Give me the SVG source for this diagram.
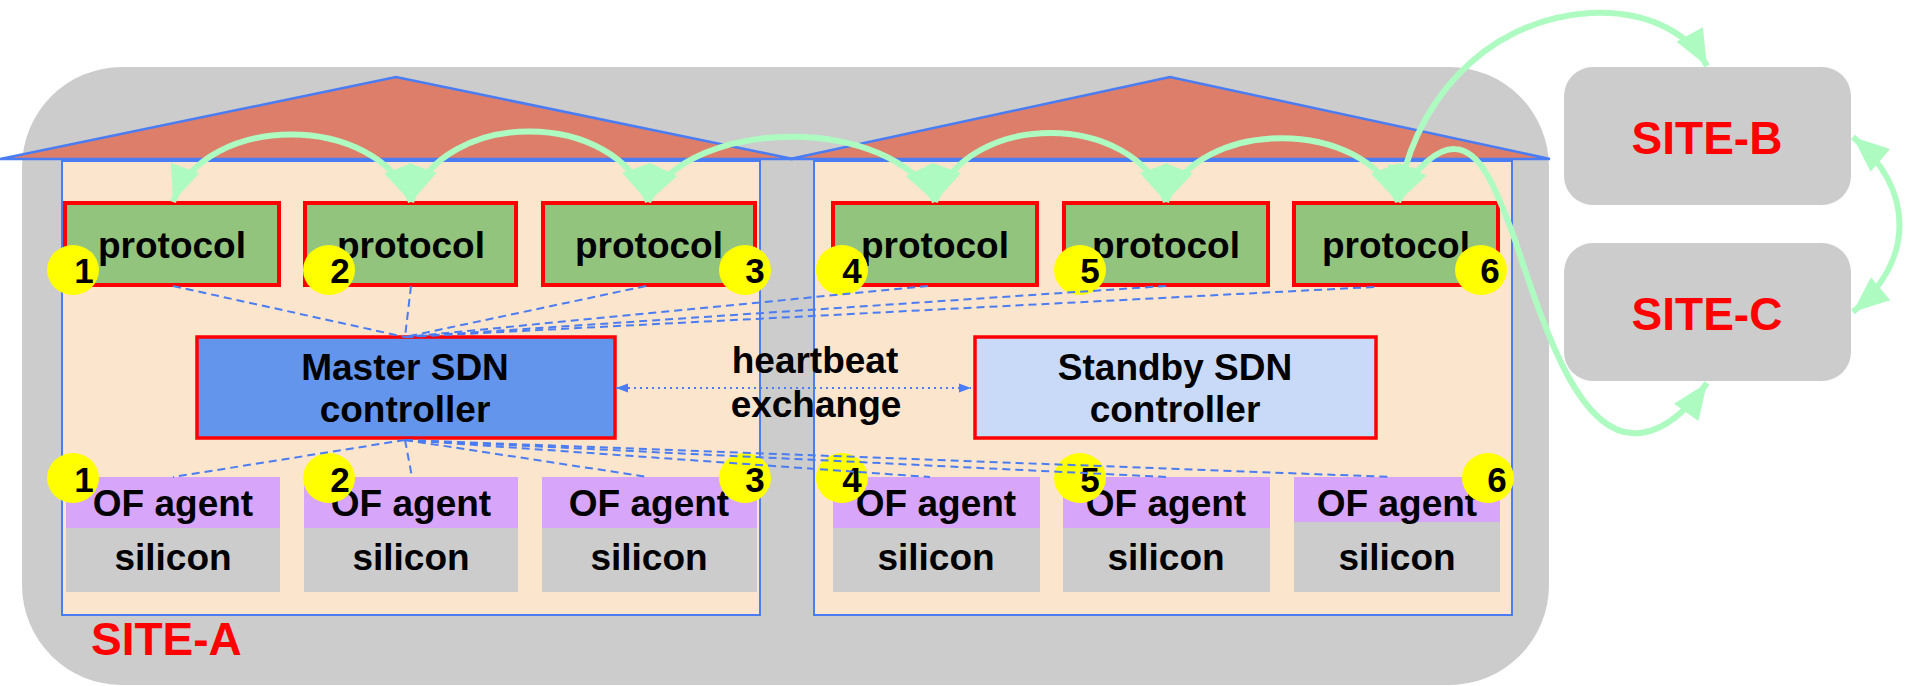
<svg xmlns="http://www.w3.org/2000/svg" width="1905" height="686" viewBox="0 0 1905 686">
<style>
text{font-family:"Liberation Sans",Arial,sans-serif;font-weight:bold;font-size:37px;fill:#000;text-anchor:middle}
.site{font-size:46px;fill:#ff0000}
.num{font-size:35px}
.bld{fill:#fce5cd;stroke:#4a7cf3;stroke-width:2}
.roof{fill:#dd7e6b;stroke:#4a7cf3;stroke-width:2.5;stroke-linejoin:miter}
.proto{fill:#93c47d;stroke:#ff0000;stroke-width:4}
.ctl{stroke:#ff0000;stroke-width:3.5}
.of{fill:#d7a6fb}
.si{fill:#cccccc}
.badge{fill:#ffff00}
.dash{fill:none;stroke:#4a7cf3;stroke-width:2;stroke-dasharray:8 5}
.dot{fill:none;stroke:#4a7cf3;stroke-width:2;stroke-dasharray:2 4}
.green{fill:none;stroke:#adfbc0;stroke-width:6}
</style>
<defs>
<marker id="gh" markerUnits="userSpaceOnUse" markerWidth="38" markerHeight="32" refX="36" refY="15" orient="auto-start-reverse" overflow="visible"><path d="M0,0 L36,15 L0,30 z" fill="#adfbc0"/></marker>
<marker id="bh" markerUnits="userSpaceOnUse" markerWidth="13" markerHeight="10" refX="12" refY="4.5" orient="auto-start-reverse" overflow="visible"><path d="M0,0 L12,4.5 L0,9 z" fill="#4a7cf3"/></marker>
</defs>

<g id="site-a">
<rect x="22" y="67" width="1527" height="618" rx="100" fill="#cccccc"/>
<text class="site" x="91" y="655" style="text-anchor:start">SITE-A</text>
</g>

<g id="building-left">
<polygon class="roof" points="0,159 396,77 793,159"/>
<rect class="bld" x="62" y="161" width="698" height="454"/>
</g>
<g id="building-right">
<polygon class="roof" points="790,159 1170,77 1550,159"/>
<rect class="bld" x="814" y="161" width="698" height="454"/>
</g>

<g id="site-b">
<rect x="1564" y="67" width="287" height="138" rx="29" fill="#cccccc"/>
<text class="site" x="1707" y="154">SITE-B</text>
</g>
<g id="site-c">
<rect x="1564" y="243" width="287" height="138" rx="29" fill="#cccccc"/>
<text class="site" x="1707" y="330">SITE-C</text>
</g>

<g id="protocol-1"><rect class="proto" x="65" y="203" width="214" height="82"/><text x="172" y="258">protocol</text></g>
<g id="protocol-2"><rect class="proto" x="305" y="203" width="211" height="82"/><text x="411" y="258">protocol</text></g>
<g id="protocol-3"><rect class="proto" x="543" y="203" width="212" height="82"/><text x="649" y="258">protocol</text></g>
<g id="protocol-4"><rect class="proto" x="833" y="203" width="204" height="82"/><text x="935" y="258">protocol</text></g>
<g id="protocol-5"><rect class="proto" x="1064" y="203" width="204" height="82"/><text x="1166" y="258">protocol</text></g>
<g id="protocol-6"><rect class="proto" x="1294" y="203" width="204" height="82"/><text x="1396" y="258">protocol</text></g>

<g id="master-controller">
<rect class="ctl" x="197" y="337" width="418" height="101" fill="#6495ed"/>
<text x="405" y="380">Master SDN</text>
<text x="405" y="422">controller</text>
</g>
<g id="standby-controller">
<rect class="ctl" x="975" y="337" width="401" height="101" fill="#c9daf8"/>
<text x="1175" y="380">Standby SDN</text>
<text x="1175" y="422">controller</text>
</g>
<g id="heartbeat-label">
<text x="815" y="373">heartbeat</text>
<text x="816" y="417">exchange</text>
</g>

<g id="switch-1"><rect class="of" x="66" y="477" width="214" height="51"/><rect class="si" x="66" y="528" width="214" height="64"/><text x="173" y="516">OF agent</text><text x="173" y="570">silicon</text></g>
<g id="switch-2"><rect class="of" x="304" y="477" width="214" height="51"/><rect class="si" x="304" y="528" width="214" height="64"/><text x="411" y="516">OF agent</text><text x="411" y="570">silicon</text></g>
<g id="switch-3"><rect class="of" x="542" y="477" width="215" height="51"/><rect class="si" x="542" y="528" width="215" height="64"/><text x="649" y="516">OF agent</text><text x="649" y="570">silicon</text></g>
<g id="switch-4"><rect class="of" x="833" y="477" width="207" height="51"/><rect class="si" x="833" y="528" width="207" height="64"/><text x="936" y="516">OF agent</text><text x="936" y="570">silicon</text></g>
<g id="switch-5"><rect class="of" x="1063" y="477" width="207" height="51"/><rect class="si" x="1063" y="528" width="207" height="64"/><text x="1166" y="516">OF agent</text><text x="1166" y="570">silicon</text></g>
<g id="switch-6"><rect class="of" x="1294" y="477" width="206" height="45"/><rect class="si" x="1294" y="522" width="206" height="70"/><text x="1397" y="516">OF agent</text><text x="1397" y="570">silicon</text></g>

<g id="badges">
<ellipse class="badge" cx="73" cy="270" rx="26" ry="25"/><text class="num" x="84" y="283">1</text>
<ellipse class="badge" cx="329" cy="270" rx="26" ry="25"/><text class="num" x="340" y="283">2</text>
<ellipse class="badge" cx="745" cy="270" rx="26" ry="25"/><text class="num" x="755" y="283">3</text>
<ellipse class="badge" cx="842" cy="270" rx="26" ry="25"/><text class="num" x="852" y="283">4</text>
<ellipse class="badge" cx="1080" cy="270" rx="26" ry="25"/><text class="num" x="1090" y="283">5</text>
<ellipse class="badge" cx="1481" cy="270" rx="26" ry="25"/><text class="num" x="1490" y="283">6</text>
<ellipse class="badge" cx="73" cy="478" rx="26" ry="25"/><text class="num" x="84" y="492">1</text>
<ellipse class="badge" cx="329" cy="478" rx="26" ry="25"/><text class="num" x="340" y="492">2</text>
<ellipse class="badge" cx="745" cy="478" rx="26" ry="25"/><text class="num" x="755" y="492">3</text>
<ellipse class="badge" cx="842" cy="478" rx="26" ry="25"/><text class="num" x="852" y="492">4</text>
<ellipse class="badge" cx="1080" cy="478" rx="26" ry="25"/><text class="num" x="1090" y="492">5</text>
<ellipse class="badge" cx="1488" cy="478" rx="26" ry="25"/><text class="num" x="1497" y="492">6</text>
</g>

<g id="connectors">
<path class="dash" d="M173,286 L405,337"/>
<path class="dash" d="M411,286 L405,337"/>
<path class="dash" d="M646,286 L405,337"/>
<path class="dash" d="M928,286 L405,337"/>
<path class="dash" d="M1166,286 L405,337"/>
<path class="dash" d="M1374,287 L405,337"/>
<path class="dash" d="M405,440 L173,477"/>
<path class="dash" d="M405,440 L412,477"/>
<path class="dash" d="M405,440 L648,477"/>
<path class="dash" d="M405,440 L930,477"/>
<path class="dash" d="M405,440 L1166,477"/>
<path class="dash" d="M405,440 L1392,477"/>
<path class="dot" d="M616,388 L971,388" marker-start="url(#bh)" marker-end="url(#bh)"/>
<path class="green" d="M173,202 C205,112 377,112 411,202" marker-start="url(#gh)" marker-end="url(#gh)"/>
<path class="green" d="M411,202 C443,108 616,108 648,202" marker-start="url(#gh)" marker-end="url(#gh)"/>
<path class="green" d="M648,202 C690,115 893,115 935,202" marker-start="url(#gh)" marker-end="url(#gh)"/>
<path class="green" d="M935,202 C967,110 1134,110 1166,202" marker-start="url(#gh)" marker-end="url(#gh)"/>
<path class="green" d="M1166,202 C1198,117 1365,117 1398,202" marker-start="url(#gh)" marker-end="url(#gh)"/>
<path class="green" d="M1398,202 C1410,110 1480,20 1590,13 C1650,10 1690,35 1707,66" marker-start="url(#gh)" marker-end="url(#gh)"/>
<path class="green" d="M1398,202 C1415,165 1440,148 1455,149 C1480,150 1495,185 1515,240 C1545,330 1580,440 1640,433 C1670,430 1695,400 1707,383" marker-start="url(#gh)" marker-end="url(#gh)"/>
<path class="green" d="M1853,137 C1915,190 1915,260 1853,312" marker-start="url(#gh)" marker-end="url(#gh)"/>
</g>
</svg>
